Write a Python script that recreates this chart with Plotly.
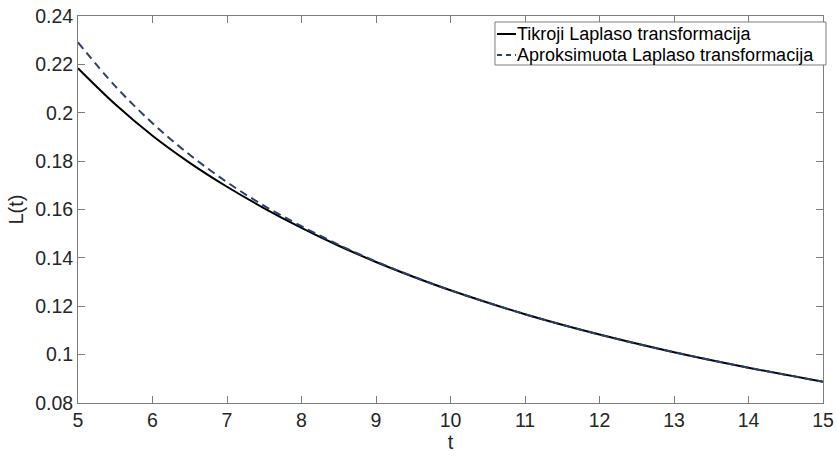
import plotly.graph_objects as go

# Sample points of the two transforms
t_vals = [5, 5.5, 6, 6.5, 7, 7.5, 8, 8.5, 9, 9.5, 10, 11, 12, 13, 14, 15]
exact_L = [0.2184, 0.2035, 0.1905, 0.1793, 0.1694, 0.1605, 0.1524, 0.1450,
           0.1383, 0.1322, 0.1266, 0.1167, 0.1083, 0.1010, 0.0946, 0.0888]
approx_L = [0.2291, 0.2110, 0.1957, 0.1826, 0.1713, 0.1615, 0.1531, 0.1454,
            0.1385, 0.1323, 0.1266, 0.1167, 0.1083, 0.1010, 0.0946, 0.0888]

x_ticks = [5, 6, 7, 8, 9, 10, 11, 12, 13, 14, 15]
y_ticks = [0.08, 0.1, 0.12, 0.14, 0.16, 0.18, 0.2, 0.22, 0.24]
y_tick_text = ["0.08", "0.1", "0.12", "0.14", "0.16", "0.18", "0.2", "0.22", "0.24"]

series_names = ["Tikroji Laplaso transformacija", "Aproksimuota Laplaso transformacija"]
series_colors = ["#000000", "#2b3f6e"]
series_dash = ["solid", "8px,5px"]

FONT = "Liberation Sans, Arial, sans-serif"
AXIS_COLOR = "#7d7d7d"
TEXT_COLOR = "#262626"

fig = go.Figure()
for ys, name, color, dash in zip([exact_L, approx_L], series_names, series_colors, series_dash):
    fig.add_trace(go.Scatter(
        x=t_vals, y=ys, mode="lines", name=name, showlegend=False,
        line=dict(color=color, width=2, dash=dash, shape="spline"),
    ))

axis_common = dict(
    showline=True, linecolor=AXIS_COLOR, linewidth=1, mirror="ticks",
    ticks="inside", ticklen=7, tickwidth=1, tickcolor=AXIS_COLOR,
    showgrid=False, zeroline=False,
    tickfont=dict(family=FONT, size=19.5, color=TEXT_COLOR),
)

fig.update_xaxes(
    range=[5, 15], tickvals=x_ticks, ticktext=[str(v) for v in x_ticks],
    title=dict(text="t", font=dict(family=FONT, size=20, color=TEXT_COLOR), standoff=4),
    **axis_common,
)
fig.update_yaxes(
    range=[0.08, 0.24], tickvals=y_ticks, ticktext=y_tick_text,
    title=dict(text="L(t)", font=dict(family=FONT, size=20, color=TEXT_COLOR), standoff=6),
    **axis_common,
)

# Compact boxed legend in the upper right corner (paper coordinates)
legend_box = dict(x0=0.5597, x1=1.0040, y0=0.8734, y1=0.9845)
row_y = [0.9535, 0.8992]
sample_x = (0.5624, 0.5879)
text_x = 0.5880

shapes = [dict(type="rect", xref="paper", yref="paper", **legend_box,
               line=dict(color=AXIS_COLOR, width=1), fillcolor="white", layer="above")]
annotations = []
for name, color, dash, y in zip(series_names, series_colors, series_dash, row_y):
    shapes.append(dict(type="line", xref="paper", yref="paper",
                       x0=sample_x[0], x1=sample_x[1], y0=y, y1=y,
                       line=dict(color=color, width=2,
                                 dash="solid" if dash == "solid" else "5px,4px"),
                       layer="above"))
    annotations.append(dict(xref="paper", yref="paper", x=text_x, y=y,
                            xanchor="left", yanchor="middle", showarrow=False,
                            borderpad=0,
                            text=name, font=dict(family=FONT, size=18, color="#000000")))

fig.update_layout(
    width=837, height=461,
    margin=dict(l=78, r=14, t=16, b=58, autoexpand=False),
    plot_bgcolor="white", paper_bgcolor="white",
    font=dict(family=FONT, color=TEXT_COLOR),
    shapes=shapes, annotations=annotations,
    showlegend=False,
)

fig.write_html("out.html")
